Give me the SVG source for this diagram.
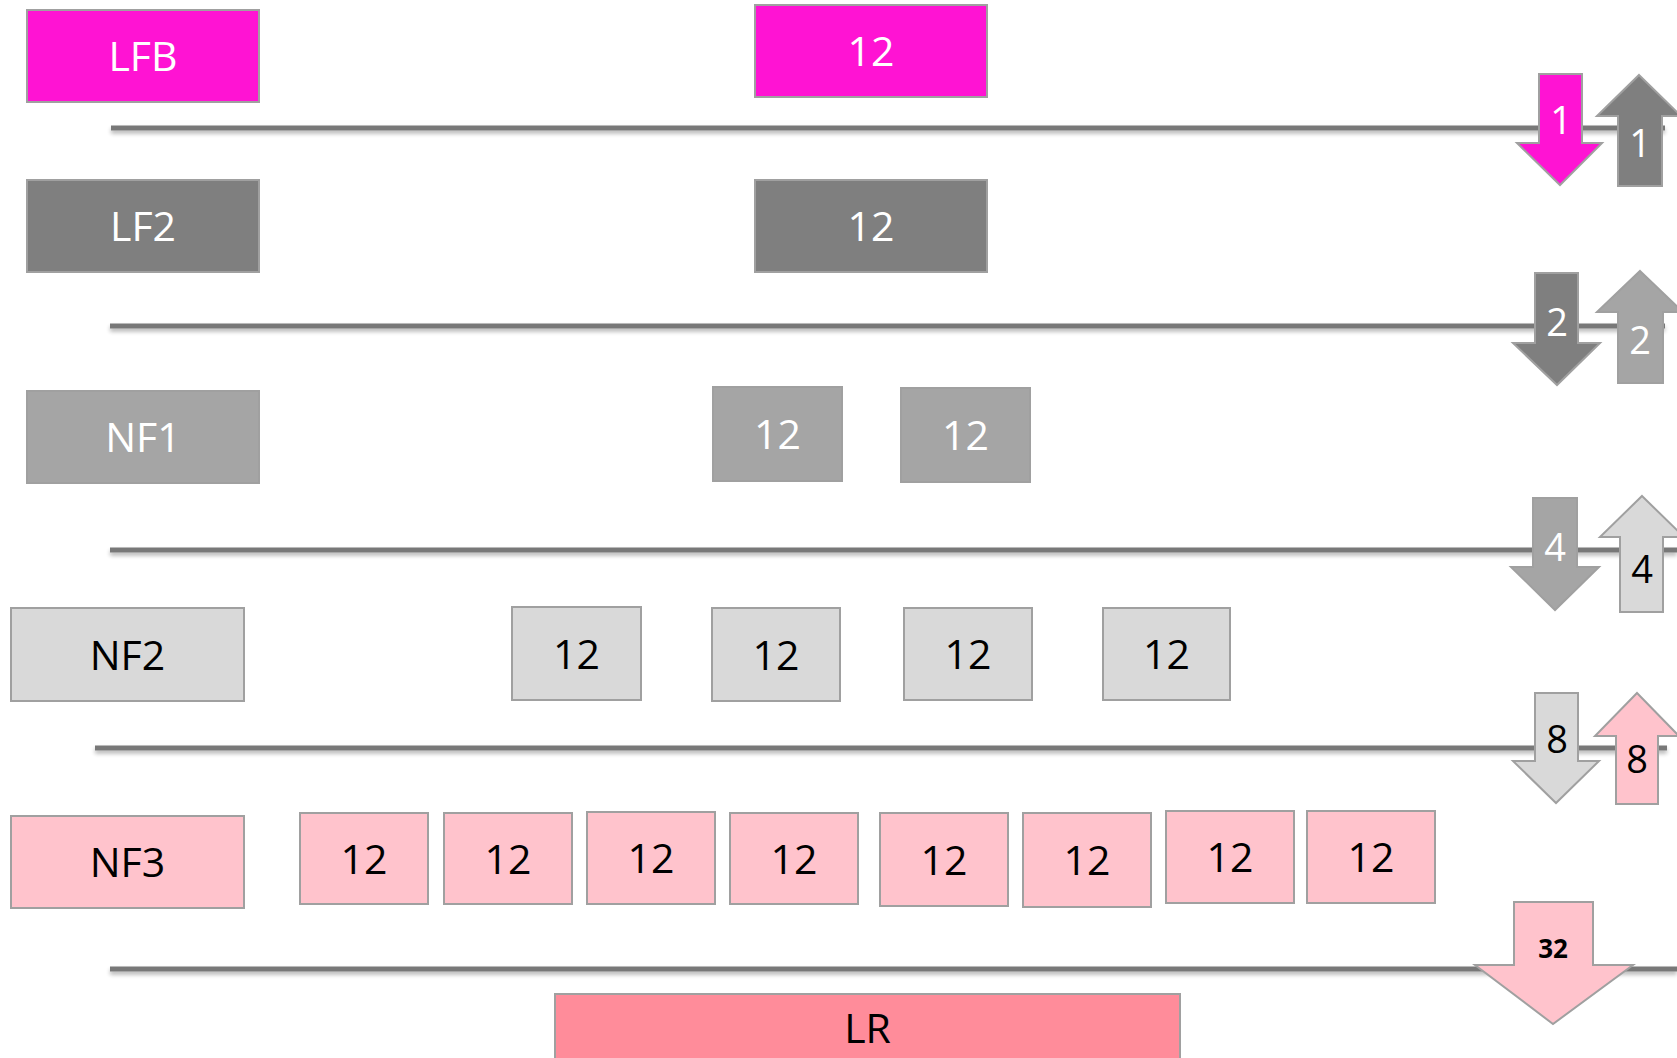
<svg xmlns="http://www.w3.org/2000/svg" width="1677" height="1058" viewBox="0 0 1677 1058">
<defs>
<filter id="sh" filterUnits="userSpaceOnUse" x="0" y="0" width="1677" height="1058">
<feGaussianBlur in="SourceAlpha" stdDeviation="2"/>
<feOffset dy="3" result="b"/>
<feComponentTransfer><feFuncA type="linear" slope="0.3"/></feComponentTransfer>
<feMerge><feMergeNode/><feMergeNode in="SourceGraphic"/></feMerge>
</filter>
</defs>
<style>
.n rect,polygon{stroke:#A0A0A0;stroke-width:2}
.mag{fill:#FF13D3}
.dk{fill:#7F7F7F}
.md{fill:#A5A5A5}
.lt{fill:#D9D9D9}
.pk{fill:#FFC3CC}
.lr{fill:#FF8C9A}
text{font-family:"Open Sans","Noto Sans",sans-serif;text-anchor:middle}
.t{font-size:41px}
.a{font-size:38px}
.w{fill:#FFFFFF}
.b{fill:#000000}
.ln{stroke:#787878;stroke-width:5;fill:none}
</style>
<rect width="1677" height="1058" fill="#FFFFFF"/>
<g id="connectors" filter="url(#sh)">
<line class="ln" x1="111" y1="128" x2="1665" y2="128"/>
<line class="ln" x1="110" y1="326" x2="1665" y2="326"/>
<line class="ln" x1="110" y1="550" x2="1677" y2="550"/>
<line class="ln" x1="95" y1="748" x2="1667" y2="748"/>
<line class="ln" x1="110" y1="969" x2="1677" y2="969"/>
</g>
<g class="n">
<g id="LFB"><rect class="mag" x="27" y="10" width="232" height="92"/><text class="t w" x="143" y="71">LFB</text></g>
<g id="LFB-12"><rect class="mag" x="755" y="5" width="232" height="92"/><text class="t w" x="871" y="66">12</text></g>
<g id="LF2"><rect class="dk" x="27" y="180" width="232" height="92"/><text class="t w" x="143" y="241">LF2</text></g>
<g id="LF2-12"><rect class="dk" x="755" y="180" width="232" height="92"/><text class="t w" x="871" y="241">12</text></g>
<g id="NF1"><rect class="md" x="27" y="391" width="232" height="92"/><text class="t w" x="143" y="452">NF1</text></g>
<g id="NF1-12a"><rect class="md" x="713" y="387" width="129" height="94"/><text class="t w" x="777.5" y="449">12</text></g>
<g id="NF1-12b"><rect class="md" x="901" y="388" width="129" height="94"/><text class="t w" x="965.5" y="450">12</text></g>
<g id="NF2"><rect class="lt" x="11" y="608" width="233" height="93"/><text class="t b" x="127.5" y="669.5">NF2</text></g>
<g id="NF2-12a"><rect class="lt" x="512" y="607" width="129" height="93"/><text class="t b" x="576.5" y="668.5">12</text></g>
<g id="NF2-12b"><rect class="lt" x="712" y="608" width="128" height="93"/><text class="t b" x="776" y="669.5">12</text></g>
<g id="NF2-12c"><rect class="lt" x="904" y="608" width="128" height="92"/><text class="t b" x="968" y="669">12</text></g>
<g id="NF2-12d"><rect class="lt" x="1103" y="608" width="127" height="92"/><text class="t b" x="1166.5" y="669">12</text></g>
<g id="NF3"><rect class="pk" x="11" y="816" width="233" height="92"/><text class="t b" x="127.5" y="877">NF3</text></g>
<g id="NF3-12a"><rect class="pk" x="300" y="813" width="128" height="91"/><text class="t b" x="364" y="874">12</text></g>
<g id="NF3-12b"><rect class="pk" x="444" y="813" width="128" height="91"/><text class="t b" x="508" y="874">12</text></g>
<g id="NF3-12c"><rect class="pk" x="587" y="812" width="128" height="92"/><text class="t b" x="651" y="873">12</text></g>
<g id="NF3-12d"><rect class="pk" x="730" y="813" width="128" height="91"/><text class="t b" x="794" y="874">12</text></g>
<g id="NF3-12e"><rect class="pk" x="880" y="813" width="128" height="93"/><text class="t b" x="944" y="875">12</text></g>
<g id="NF3-12f"><rect class="pk" x="1023" y="813" width="128" height="94"/><text class="t b" x="1087" y="875">12</text></g>
<g id="NF3-12g"><rect class="pk" x="1166" y="811" width="128" height="92"/><text class="t b" x="1230" y="872">12</text></g>
<g id="NF3-12h"><rect class="pk" x="1307" y="811" width="128" height="92"/><text class="t b" x="1371" y="872">12</text></g>
<g id="LR"><rect class="lr" x="555" y="994" width="625" height="80"/><text class="t b" x="867.5" y="1043">LR</text></g>
<g id="arrow-down-1"><polygon class="mag" points="1539,74 1582,74 1582,143 1602,143 1560,185 1517,143 1539,143"/><text class="a w" x="1561" y="134">1</text></g>
<g id="arrow-up-1"><polygon class="dk" points="1639,75 1681,116 1662,116 1662,186 1618,186 1618,116 1597,116"/><text class="a w" x="1640" y="157">1</text></g>
<g id="arrow-down-2"><polygon class="dk" points="1535,273 1578,273 1578,343 1600,343 1557,385 1513,343 1535,343"/><text class="a w" x="1557" y="336">2</text></g>
<g id="arrow-up-2"><polygon class="md" points="1640,271 1683,312 1663,312 1663,383 1618,383 1618,312 1597,312"/><text class="a w" x="1640" y="354">2</text></g>
<g id="arrow-down-4"><polygon class="md" points="1533,498 1577,498 1577,567 1599,567 1555,610 1511,567 1533,567"/><text class="a w" x="1555" y="561">4</text></g>
<g id="arrow-up-4"><polygon class="lt" points="1642,496 1684,537 1663,537 1663,612 1620,612 1620,537 1600,537"/><text class="a b" x="1642" y="583">4</text></g>
<g id="arrow-down-8"><polygon class="lt" points="1535,693 1578,693 1578,761 1599,761 1556,803 1513,761 1535,761"/><text class="a b" x="1557" y="753">8</text></g>
<g id="arrow-up-8"><polygon class="pk" points="1637,693 1679,736 1658,736 1658,804 1616,804 1616,736 1595,736"/><text class="a b" x="1637" y="773">8</text></g>
<g id="arrow-down-32"><polygon class="pk" points="1514,902 1593,902 1593,965 1633,965 1553,1024 1475,965 1514,965"/><text class="b" x="1553" y="958" style="font-size:26px;font-weight:bold">32</text></g>
</g>
</svg>
